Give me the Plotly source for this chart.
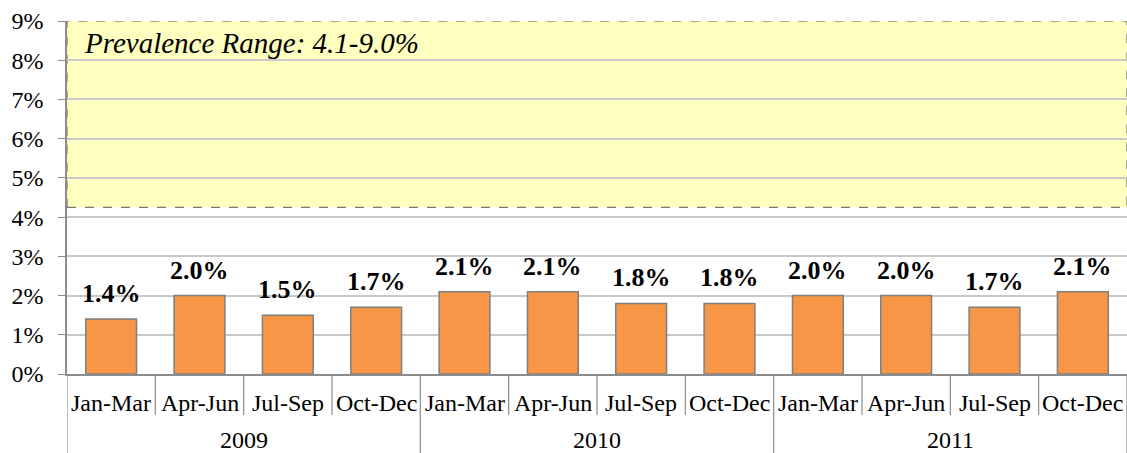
import plotly.graph_objects as go

years = ["2009"] * 4 + ["2010"] * 4 + ["2011"] * 4
quarters = ["Jan-Mar", "Apr-Jun", "Jul-Sep", "Oct-Dec"] * 3
values = [1.4, 2.0, 1.5, 1.7, 2.1, 2.1, 1.8, 1.8, 2.0, 2.0, 1.7, 2.1]
labels = ["1.4%", "2.0%", "1.5%", "1.7%", "2.1%", "2.1%", "1.8%", "1.8%", "2.0%", "2.0%", "1.7%", "2.1%"]
range_low, range_high = 4.25, 9.0
range_text = "Prevalence Range: 4.1-9.0%"
y_ticks = list(range(0, 10))
y_ticktext = [f"{v}%" for v in y_ticks]

FONT = "Liberation Serif"
AXIS_GREY = "#8C8C8C"

idx = list(range(len(values)))
M_L, M_R, M_T, M_B = 67, 0, 21, 79
PLOT_H = 453 - M_T - M_B  # plot area height in px

def py(px):
    """pixels below the x-axis -> paper y"""
    return -px / PLOT_H

fig = go.Figure()
fig.add_trace(go.Bar(
    x=idx,
    y=values,
    marker=dict(color="#F79646", line=dict(color="#7F7F7F", width=1.5)),
    width=0.575,
    hoverinfo="skip",
))

# value labels
for i, (v, t) in enumerate(zip(values, labels)):
    fig.add_annotation(
        x=i, xref="x", y=v, yref="y", text=f"<b>{t}</b>", showarrow=False,
        yanchor="bottom", yshift=9,
        font=dict(family=FONT, size=26, color="black"),
    )

# quarter labels
for i, q in enumerate(quarters):
    fig.add_annotation(
        x=i, xref="x", y=py(29), yref="paper", text=q, showarrow=False,
        yanchor="middle", font=dict(family=FONT, size=24, color="black"),
    )

# year labels and dividers
groups = []
for i, yr in enumerate(years):
    if not groups or groups[-1][0] != yr:
        groups.append([yr, i, i])
    else:
        groups[-1][2] = i
for yr, a, b in groups:
    fig.add_annotation(
        x=(a + b) / 2, xref="x", y=py(66), yref="paper", text=yr, showarrow=False,
        yanchor="middle", font=dict(family=FONT, size=24, color="black"),
    )

year_bounds = {g[1] for g in groups} | {groups[-1][2] + 1}
for i in range(len(values) + 1):
    long = i in year_bounds
    fig.add_shape(
        type="line", xref="x", yref="paper",
        x0=i - 0.5, x1=i - 0.5, y0=0, y1=py(90 if long else 41),
        line=dict(color=AXIS_GREY, width=1.2),
    )

fig.add_shape(
    type="rect", xref="paper", yref="y",
    x0=0, x1=1, y0=range_low, y1=range_high,
    fillcolor="#FFFFC0", line=dict(color="#555555", width=1, dash="dash"),
    layer="below",
)
fig.add_annotation(
    xref="paper", yref="y", x=0.014, y=8.45, xanchor="left", yanchor="middle",
    text=f"<i>{range_text}</i>", showarrow=False,
    font=dict(family=FONT, size=29, color="black"),
)

fig.update_layout(
    width=1127, height=453,
    margin=dict(l=M_L, r=M_R, t=M_T, b=M_B),
    paper_bgcolor="white", plot_bgcolor="rgba(0,0,0,0)",
    showlegend=False,
    font=dict(family=FONT, color="black"),
)
fig.update_yaxes(
    range=[0, 9], tickvals=y_ticks, ticktext=y_ticktext,
    showgrid=True, gridcolor="#C8C8C8", gridwidth=1.5,
    showline=True, linecolor=AXIS_GREY, linewidth=1.5,
    ticks="outside", ticklen=7, tickcolor=AXIS_GREY,
    ticklabelstandoff=10,
    tickfont=dict(family=FONT, size=24, color="black"),
    zeroline=False, layer="below traces",
)
fig.update_xaxes(
    range=[-0.5, len(values) - 0.5],
    showline=True, linecolor=AXIS_GREY, linewidth=1.5,
    showticklabels=False, ticks="", showgrid=False, zeroline=False,
)

fig.write_html(
    "out.html",
    config={"displayModeBar": False},
    post_script="document.body.style.margin='0';document.body.style.overflow='hidden';",
)
